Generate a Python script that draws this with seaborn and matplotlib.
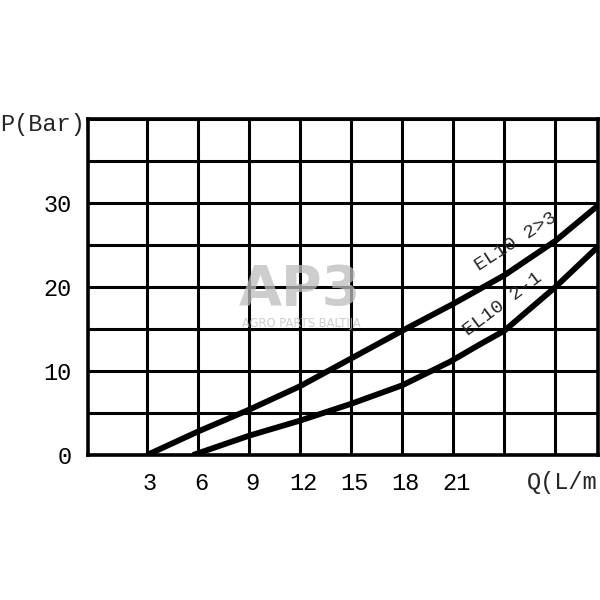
import matplotlib
matplotlib.use("Agg")
import matplotlib.pyplot as plt
import matplotlib.transforms as mtransforms
import seaborn as sns
import pandas as pd

# Data
q_23 = [3, 6, 9, 12, 15, 18, 21, 24, 27, 29.5]
p_23 = [0, 2.8, 5.4, 8.2, 11.5, 14.8, 18.0, 21.4, 25.5, 29.7]
q_21 = [5.7, 9, 12, 15, 18, 20.8, 22.5, 24, 27, 29.5]
p_21 = [0, 2.3, 4.1, 6.1, 8.3, 11.1, 13.1, 14.8, 20.0, 24.8]
series_names = ["EL10 2>3", "EL10 2-1"]
x_ticks = [3, 6, 9, 12, 15, 18, 21, 24, 27]
x_tick_labels = ["3", "6", "9", "12", "15", "18", "21", "", ""]
y_ticks = [0, 5, 10, 15, 20, 25, 30, 35, 40]
y_tick_labels = ["0", "", "10", "", "20", "", "30", "", ""]

sns.set_theme(style="white")
plt.rcParams["font.family"] = ["Liberation Mono", "DejaVu Sans Mono"]

df = pd.concat([
    pd.DataFrame({"Q": q_23, "P": p_23, "curve": series_names[0]}),
    pd.DataFrame({"Q": q_21, "P": p_21, "curve": series_names[1]}),
])

fig = plt.figure(figsize=(6, 6), dpi=100)
ax = fig.add_axes([88/600, 1-455/600, 510/600, 336/600])

sns.lineplot(data=df, x="Q", y="P", hue="curve", units="curve", estimator=None,
             sort=False, palette=["black", "black"], linewidth=4.2, legend=False,
             ax=ax, zorder=3)
for line in ax.lines:
    line.set_solid_capstyle("butt")
    line.set_solid_joinstyle("round")

ax.set_xlim(-0.47, 29.5)
ax.set_ylim(0, 40)
ax.set_xticks(x_ticks)
ax.set_xticklabels(x_tick_labels)
ax.set_yticks(y_ticks)
ax.set_yticklabels(y_tick_labels)
ax.tick_params(axis="both", length=0, labelsize=17, colors="black")
ax.tick_params(axis="x", pad=12)
ax.tick_params(axis="y", pad=12)
shift = mtransforms.ScaledTranslation(3/100, 0, fig.dpi_scale_trans)
for lbl in ax.get_xticklabels():
    lbl.set_transform(lbl.get_transform() + shift)
ax.grid(True, color="black", linewidth=2.2)
for s in ax.spines.values():
    s.set_visible(True)
    s.set_color("black")
    s.set_linewidth(2.6)
ax.set_xlabel("")
ax.set_ylabel("")

fig.text(0.0, 1-125/600, "P(Bar)", fontsize=17, ha="left", va="center")
fig.text(598/600, 1-482/600, "Q(L/m", fontsize=17, ha="right", va="center")

ax.text(24.7, 25.4, series_names[0], fontsize=14, rotation=33, ha="center",
        va="center", rotation_mode="anchor")
ax.text(23.9, 18.0, series_names[1], fontsize=14, rotation=37, ha="center",
        va="center", rotation_mode="anchor")

# watermark
fig.text(300/600, 1-290/600, "AP3", fontsize=40, fontweight="bold",
         family="DejaVu Sans", color="#bdbdbd", alpha=0.75, ha="center", va="center")
fig.text(301/600, 1-323/600, "AGRO PARTS BALTIJA", fontsize=8.3,
         family="DejaVu Sans", color="#bdbdbd", alpha=0.75, ha="center", va="center")

fig.savefig("out.png", dpi=100)
